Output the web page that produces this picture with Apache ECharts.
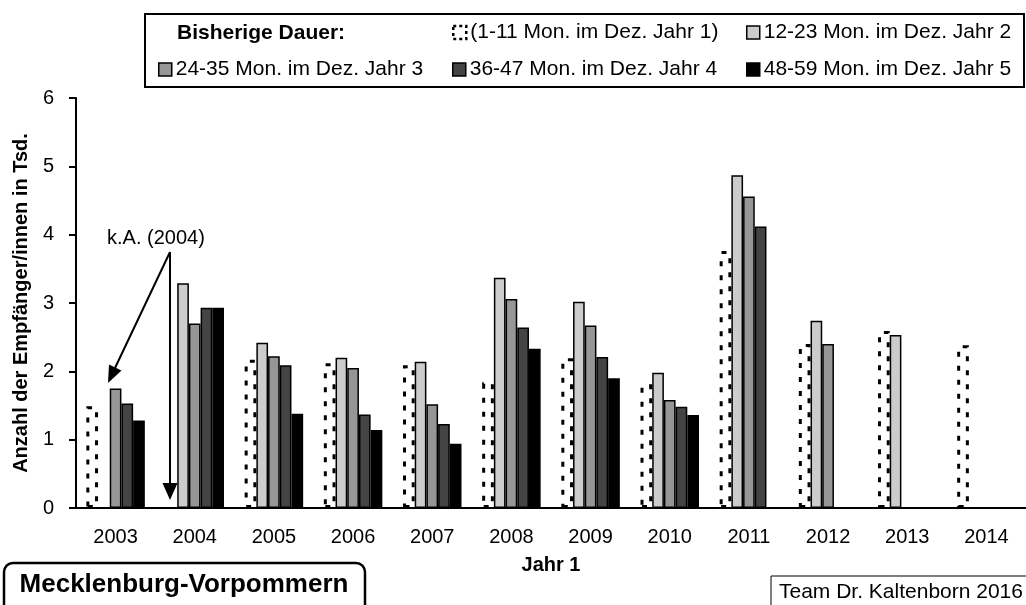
<!DOCTYPE html>
<html>
<head>
<meta charset="utf-8">
<title>Mecklenburg-Vorpommern</title>
<script src="https://cdn.jsdelivr.net/npm/echarts@6.0.0/dist/echarts.min.js"></script>
<style>
  html, body { margin: 0; padding: 0; background: #fff; }
  #chart { width: 1026px; height: 605px; }
</style>
</head>
<body>
<div id="chart"></div>
<script>
// Jahr 1 (x axis)
var years = ['2003', '2004', '2005', '2006', '2007', '2008', '2009', '2010', '2011', '2012', '2013', '2014']

var seriesNames = [
  '(1-11 Mon. im Dez. Jahr 1)',
  '12-23 Mon. im Dez. Jahr 2',
  '24-35 Mon. im Dez. Jahr 3',
  '36-47 Mon. im Dez. Jahr 4',
  '48-59 Mon. im Dez. Jahr 5'
]

// Anzahl in Tsd., null = keine Angabe
var dauer1 = [1.49, null, 2.17, 2.12, 2.09, 1.84, 2.19, 1.81, 3.76, 2.40, 2.59, 2.38]
var dauer2 = [null, 3.29, 2.42, 2.20, 2.14, 3.37, 3.02, 1.98, 4.87, 2.74, 2.53, null]
var dauer3 = [1.75, 2.70, 2.22, 2.05, 1.52, 3.06, 2.67, 1.58, 4.56, 2.40, null, null]
var dauer4 = [1.53, 2.93, 2.09, 1.37, 1.23, 2.64, 2.21, 1.48, 4.12, null, null, null]
var dauer5 = [1.28, 2.93, 1.38, 1.14, 0.94, 2.33, 1.90, 1.36, null, null, null, null]

var yMin = 0
var yMax = 6
var yStep = 1

var FONT = '"Liberation Sans", Arial, sans-serif'
var fills = ['#ffffff', '#cccccc', '#969696', '#444444', '#000000']
var allData = [dauer1, dauer2, dauer3, dauer4, dauer5]

// legend slots (icon left, top)
var legendPos = [[452, 22], [746, 22], [158, 59], [452, 59], [746, 59]]

function makeBar(i) {
  var dashed = i === 0
  return {
    name: seriesNames[i],
    type: 'bar',
    data: allData[i],
    barWidth: 11.7,
    barGap: 0,
    animation: false,
    itemStyle: {
      color: fills[i],
      borderColor: '#000',
      borderWidth: dashed ? 3 : 1.5,
      borderType: dashed ? [5, 9] : 'solid'
    }
  }
}

function makeLegend(i) {
  var item = { name: seriesNames[i] }
  if (i === 0) {
    item.itemStyle = { color: '#fff', borderColor: '#000', borderWidth: 2.5, borderType: [3, 3] }
  }
  return {
    data: [item],
    left: legendPos[i][0],
    top: legendPos[i][1],
    padding: 0,
    itemWidth: 13,
    itemHeight: 13,
    selectedMode: false,
    icon: 'rect',
    itemStyle: { borderColor: '#000', borderWidth: 1.5 },
    textStyle: { fontSize: 21, color: '#000', fontFamily: FONT, padding: [0, 0, 0, -1] }
  }
}

var chart = echarts.init(document.getElementById('chart'))

chart.setOption({
  animation: false,
  textStyle: { fontFamily: FONT },
  grid: {
    left: 76,
    top: 98,
    width: 959,
    bottom: 97
  },
  legend: [0, 1, 2, 3, 4].map(makeLegend),
  xAxis: {
    type: 'category',
    data: years,
    name: 'Jahr 1',
    nameLocation: 'middle',
    nameGap: 47,
    nameTextStyle: { fontSize: 20, fontWeight: 'bold', color: '#000', fontFamily: FONT },
    axisLine: { lineStyle: { color: '#000', width: 2 } },
    axisTick: { show: false },
    axisLabel: { fontSize: 20, color: '#000', margin: 19, fontFamily: FONT }
  },
  yAxis: {
    type: 'value',
    min: yMin,
    max: yMax,
    interval: yStep,
    name: 'Anzahl der Empfänger/innen in Tsd.',
    nameLocation: 'middle',
    nameGap: 38,
    nameTextStyle: { fontSize: 20, fontWeight: 'bold', color: '#000', fontFamily: FONT },
    axisLine: { show: true, lineStyle: { color: '#000', width: 2 } },
    axisTick: { show: true, length: 7, lineStyle: { color: '#000', width: 2 } },
    axisLabel: { fontSize: 20, color: '#000', margin: 22, fontFamily: FONT },
    splitLine: { show: false }
  },
  series: [0, 1, 2, 3, 4].map(makeBar),
  graphic: [
    // legend frame
    {
      type: 'rect',
      shape: { x: 145, y: 14, width: 879, height: 73 },
      style: { fill: 'none', stroke: '#000', lineWidth: 2 }
    },
    {
      type: 'text',
      style: { text: 'Bisherige Dauer:', x: 177, y: 33, font: 'bold 21px ' + FONT, fill: '#000', verticalAlign: 'middle' }
    },
    // k.A. annotation
    {
      type: 'text',
      style: { text: 'k.A. (2004)', x: 107, y: 238, font: '20px ' + FONT, fill: '#000', verticalAlign: 'middle' }
    },
    {
      type: 'polyline',
      shape: { points: [[170, 252], [115, 368]] },
      style: { stroke: '#000', lineWidth: 2, fill: null }
    },
    {
      type: 'polygon',
      shape: { points: [[108, 383], [121.5, 370.5], [109, 364.5]] },
      style: { fill: '#000' }
    },
    {
      type: 'polyline',
      shape: { points: [[170, 252], [170, 484]] },
      style: { stroke: '#000', lineWidth: 2, fill: null }
    },
    {
      type: 'polygon',
      shape: { points: [[170, 500], [162.5, 483], [177.5, 483]] },
      style: { fill: '#000' }
    },
    // Bundesland box
    {
      type: 'rect',
      shape: { x: 4, y: 563, width: 361, height: 60, r: 9 },
      style: { fill: '#fff', stroke: '#000', lineWidth: 2.5 }
    },
    {
      type: 'text',
      style: { text: 'Mecklenburg-Vorpommern', x: 184, y: 585, font: 'bold 26px ' + FONT, fill: '#000', align: 'center', verticalAlign: 'middle' }
    },
    // source box
    {
      type: 'rect',
      shape: { x: 771, y: 576, width: 300, height: 50 },
      style: { fill: '#fff', stroke: '#000', lineWidth: 1 }
    },
    {
      type: 'text',
      style: { text: 'Team Dr. Kaltenborn 2016', x: 779, y: 592, font: '21px ' + FONT, fill: '#000', verticalAlign: 'middle' }
    }
  ]
})
</script>
</body>
</html>
